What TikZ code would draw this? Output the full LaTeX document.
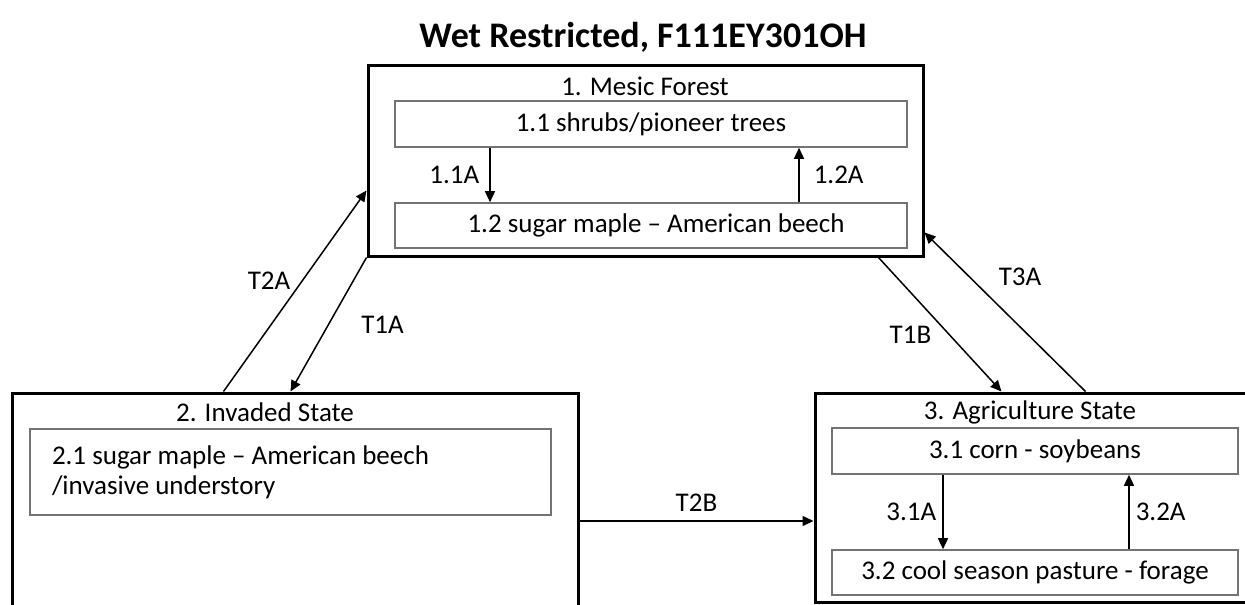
\documentclass[tikz,border=0pt]{standalone}
\usepackage{fontspec}
\setmainfont{Carlito}
\usetikzlibrary{arrows.meta}

\begin{document}
\begin{tikzpicture}[x=1pt, y=-1pt, >={Triangle[length=11pt,width=10pt]},
  font=\fontsize{27}{30}\selectfont,
  statebox/.style={draw, line width=3pt, inner sep=0pt},
  phasebox/.style={draw=black!55, line width=1.6pt, inner sep=0pt},
  trans/.style={->, line width=1.5pt},
  lbl/.style={inner sep=6pt}]

\path[use as bounding box, clip] (0,0) rectangle (1245,605);

% Title
\node[font=\fontsize{36}{40}\selectfont\bfseries] (title) at (643,37) {Wet Restricted, F111EY301OH};

% --- State 1: Mesic Forest ---
\node[statebox, minimum width=555pt, minimum height=191pt] (mesic) at (645.5,160.5) {};
\node (mesicname) at (645,86) {1. Mesic Forest};
\node[phasebox, minimum width=512pt, minimum height=46pt] (s11) at (651,124) {1.1 shrubs/pioneer trees};
\node[phasebox, minimum width=512pt, minimum height=45pt] (s12) at (651,225.5) {\hspace{10pt}1.2 sugar maple -- American beech};
\draw[trans] ([xshift=-161pt]s11.south) -- node[left, lbl, xshift=-4pt] {1.1A} ([xshift=-161pt]s12.north);
\draw[trans] ([xshift=148pt]s12.north) -- node[right, lbl, xshift=8pt] {1.2A} ([xshift=148pt]s11.south);

% --- State 2: Invaded State ---
\node[statebox, minimum width=566pt, minimum height=232pt] (inv) at (295,509) {};
\node (invname) at (265,412) {2. Invaded State};
\node[phasebox, minimum width=521pt, minimum height=86pt, text width=477pt, align=flush left, inner xsep=22pt] (s21) at (290.5,472)
  {2.1 sugar maple -- American beech\\/invasive understory\vphantom{g}};

% --- State 3: Agriculture State ---
\node[statebox, minimum width=447pt, minimum height=209pt] (agri) at (1038.5,497.5) {};
\node (agriname) at (1030,412) {3. Agriculture State};
\node[phasebox, minimum width=406pt, minimum height=46pt] (s31) at (1035,451) {3.1 corn - soybeans};
\node[phasebox, minimum width=406pt, minimum height=45pt] (s32) at (1035,572.5) {3.2 cool season pasture - forage};
\draw[trans] ([xshift=-92pt]s31.south) -- node[left, lbl] {3.1A} ([xshift=-92pt]s32.north);
\draw[trans] ([xshift=94pt]s32.north) -- node[right, lbl] {3.2A} ([xshift=94pt]s31.south);

% Transitions between states
\draw[trans] ([xshift=213pt]inv.north west) -- node[left, lbl, xshift=2pt, yshift=10pt] {T2A} ([yshift=-30pt]mesic.west);
\draw[trans] (mesic.south west) -- node[right, lbl, xshift=26pt] {T1A} ([xshift=280pt]inv.north west);
\draw[trans] ([xshift=512pt]mesic.south west) -- node[left, lbl, xshift=-2pt, yshift=-10pt] {T1B} ([xshift=188pt]agri.north west);
\draw[trans] ([xshift=272pt]agri.north west) -- node[right, lbl, xshift=-13pt, yshift=35pt] {T3A} ([yshift=-72pt]mesic.east);
\draw[trans] ([yshift=-12pt]inv.east) -- node[above, lbl, yshift=3pt] {T2B} ([yshift=-23.5pt]agri.west);

\end{tikzpicture}
\end{document}
